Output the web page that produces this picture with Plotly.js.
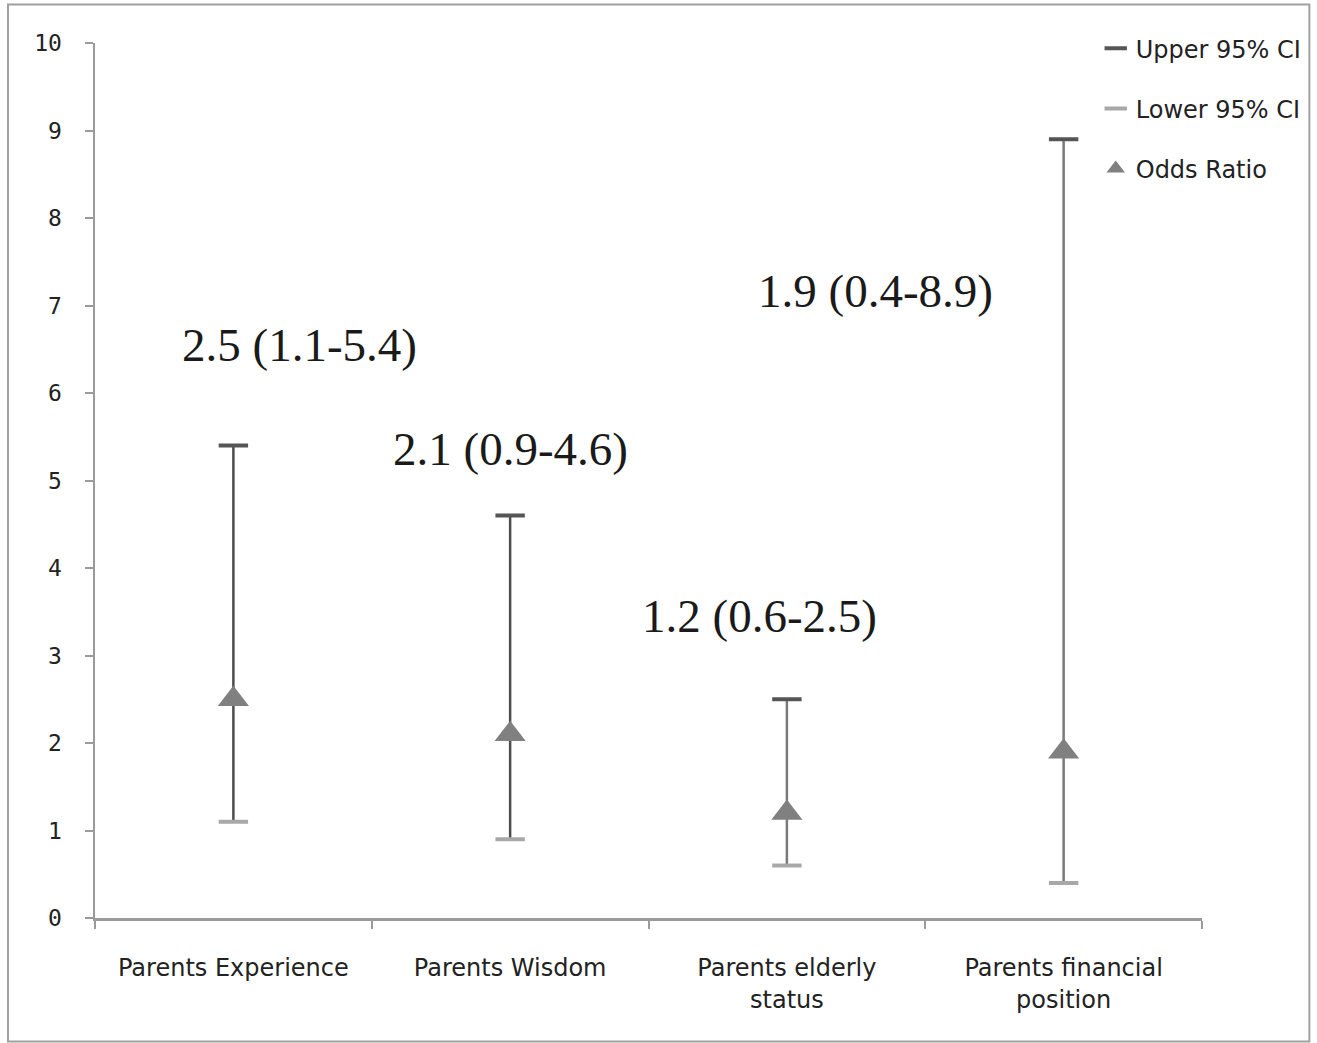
<!DOCTYPE html>
<html>
<head>
<meta charset="utf-8">
<script src="https://cdn.plot.ly/plotly-3.0.1.min.js"></script>
<style>html,body{margin:0;padding:0;background:#fff}#chart{width:1317px;height:1043px}</style>
</head>
<body>
<div id="chart"></div>
<script>
const categories = ["Parents Experience", "Parents Wisdom", "Parents elderly<br>status", "Parents financial<br>position"];
const upperCI = [5.4, 4.6, 2.5, 8.9];
const lowerCI = [1.1, 0.9, 0.6, 0.4];
const oddsRatio = [2.5, 2.1, 1.2, 1.9];
const labels = ["2.5 (1.1-5.4)", "2.1 (0.9-4.6)", "1.2 (0.6-2.5)", "1.9 (0.4-8.9)"];
const labelX = [0.24, 1.0, 1.9, 2.32];
const labelY = [6.55, 5.36, 3.45, 7.17];
const lineColors = ["#4d4d4d", "#4d4d4d", "#7a7a7a", "#7a7a7a"];

const traces = [];
categories.forEach((c, i) => {
  traces.push({
    x: [c, c], y: [lowerCI[i], upperCI[i]],
    mode: "lines", type: "scatter", showlegend: false, hoverinfo: "skip",
    line: {color: lineColors[i], width: 2.5}
  });
});
traces.push({
  x: categories, y: upperCI, name: "Upper 95% CI", type: "scatter", mode: "markers",
  legendgroup: "u",
  marker: {symbol: "line-ew", size: 21, color: "#555555", line: {color: "#555555", width: 4}}
});
traces.push({
  x: categories, y: lowerCI, name: "Lower 95% CI", type: "scatter", mode: "markers",
  legendgroup: "l",
  marker: {symbol: "line-ew", size: 21, color: "#a8a8a8", line: {color: "#a8a8a8", width: 4}}
});
traces.push({
  x: categories, y: oddsRatio, name: "Odds Ratio", type: "scatter", mode: "markers",
  legendgroup: "o",
  marker: {symbol: "triangle-up", size: 27, color: "#808080"}
});

const annotations = labels.map((t, i) => ({
  x: labelX[i], y: labelY[i], xref: "x", yref: "y", text: t, showarrow: false,
  font: {family: "Liberation Serif, Times New Roman, serif", size: 47, color: "#1a1a1a"}
}));

const layout = {
  width: 1317, height: 1043,
  margin: {l: 95, r: 115, t: 43, b: 125, autoexpand: false},
  paper_bgcolor: "#ffffff", plot_bgcolor: "#ffffff",
  font: {family: "DejaVu Sans, sans-serif", size: 24, color: "#222"},
  xaxis: {
    type: "category", range: [-0.5, 3.5], showgrid: false, zeroline: false, automargin: false,
    showline: true, linecolor: "#9a9a9a", linewidth: 2.5,
    ticks: "outside", tickson: "boundaries", ticklen: 8, tickcolor: "#9a9a9a", tickwidth: 2,
    ticklabelstandoff: 27,
    tickfont: {family: "DejaVu Sans, sans-serif", size: 24, color: "#222"}
  },
  yaxis: {
    range: [0, 10], dtick: 1, showgrid: false, zeroline: false, automargin: false,
    showline: true, linecolor: "#9a9a9a", linewidth: 2.5,
    ticks: "outside", ticklen: 8, tickcolor: "#9a9a9a", tickwidth: 2,
    ticklabelstandoff: 18,
    tickfont: {family: "DejaVu Sans Mono, monospace", size: 23, color: "#222"}
  },
  legend: {
    x: 0.832, y: 0.975, xanchor: "left", yanchor: "top", xref: "container", yref: "container",
    font: {family: "DejaVu Sans, sans-serif", size: 24, color: "#222"},
    tracegroupgap: 26, itemwidth: 30, bgcolor: "rgba(0,0,0,0)"
  },
  annotations: annotations,
  shapes: [{
    type: "rect", xref: "paper", yref: "paper",
    x0: -0.0786, x1: 1.097, y0: -0.141, y1: 1.044,
    line: {color: "#a0a0a0", width: 2}, fillcolor: "rgba(0,0,0,0)"
  }],
  showlegend: true
};

Plotly.newPlot("chart", traces, layout, {displayModeBar: false, staticPlot: true});
</script>
</body>
</html>
